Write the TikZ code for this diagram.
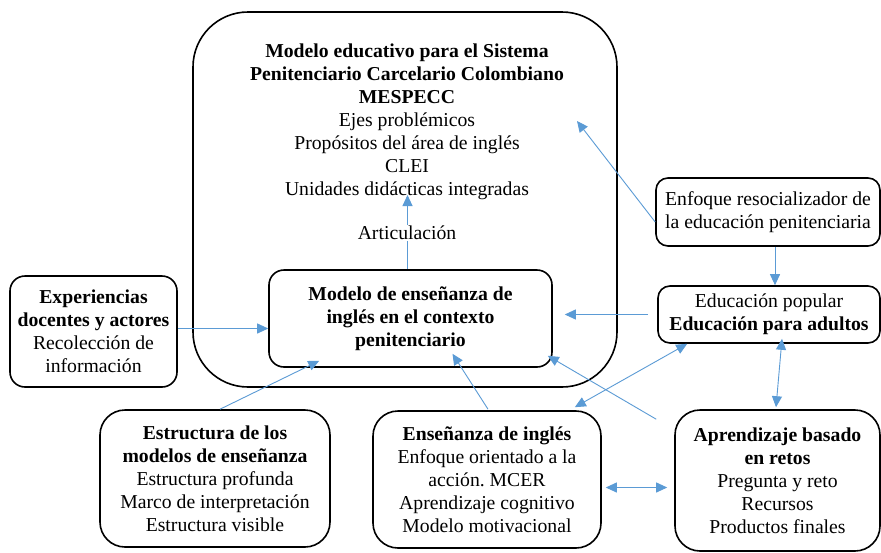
\documentclass[tikz,border=0pt]{standalone}
\usepackage{fontspec}
\setmainfont{Liberation Serif}
\usetikzlibrary{arrows.meta,calc}
\definecolor{arrowblue}{HTML}{5B9BD5}
\frenchspacing
\begin{document}
\begin{tikzpicture}[x=1pt,y=-1pt,
  box/.style={draw=black,line width=1.6pt,align=center,inner sep=0pt,font=\fontsize{19.7}{23}\selectfont},
  conn/.style={draw=arrowblue,line width=0.9pt,-{Triangle[length=11pt,width=10pt]}},
  biconn/.style={draw=arrowblue,line width=0.9pt,{Triangle[length=11pt,width=10pt]}-{Triangle[length=11pt,width=10pt]}},
  txt/.style={align=center,inner sep=0pt,font=\fontsize{19.7}{23}\selectfont}]
\useasboundingbox (0,0) rectangle (881,552);
\fill[white] (0,0) rectangle (881,552);

% boxes
\node[box, minimum width=424pt, minimum height=375pt, rounded corners=55pt] (big) at (405,199.5) {};
\node[txt] (bigtext) at (407,122) {\textbf{Modelo educativo para el Sistema}\\
\textbf{Penitenciario Carcelario Colombiano}\\
\textbf{MESPECC}\\
Ejes problémicos\\
Propósitos del área de inglés\\
CLEI\\
Unidades didácticas integradas};

\node[box, minimum width=283pt, minimum height=97pt, rounded corners=15pt] (mod) at (410.5,318.5)
  {\textbf{Modelo de enseñanza de}\\ \textbf{inglés en el contexto}\\ \textbf{penitenciario}};
\node[box, minimum width=167pt, minimum height=111pt, rounded corners=15pt] (exp) at (93.5,331.5)
  {\textbf{Experiencias}\\ \textbf{docentes y actores}\\ Recolección de\\ información};
\node[box, minimum width=224pt, minimum height=68pt, rounded corners=12pt] (enf) at (768,212)
  {Enfoque resocializador de\\ la educación penitenciaria};
\node[box, minimum width=222pt, minimum height=57pt, rounded corners=12pt] (edu) at (769,314.5)
  {Educación popular\\ \textbf{Educación para adultos}};
\node[box, minimum width=230pt, minimum height=137pt, rounded corners=25pt] (est) at (215,478.5)
  {\textbf{Estructura de los}\\ \textbf{modelos de enseñanza}\\ Estructura profunda\\ Marco de interpretación\\ Estructura visible};
\node[box, minimum width=228pt, minimum height=137pt, rounded corners=25pt] (ens) at (487,479.5)
  {\textbf{Enseñanza de inglés}\\ Enfoque orientado a la\\ acción. MCER\\ Aprendizaje cognitivo\\ Modelo motivacional};
\node[box, minimum width=205pt, minimum height=141pt, rounded corners=25pt] (apr) at (777.5,480.5)
  {\textbf{Aprendizaje basado}\\ \textbf{en retos}\\ Pregunta y reto\\ Recursos\\ Productos finales};

% connectors
\coordinate (tipA) at (577,121);
\coordinate (tipB) at (407.5,195);
\draw[conn] ($(enf.west)+(0,10)$) -- (tipA);
\draw[conn] ($(enf.south)+(7,0)$) -- ($(edu.north)+(6,0)$);
\draw[conn] ($(edu.west)+(-9,0)$) -- ($(mod.east)+(12,-4)$);
\draw[biconn] ($(ens.north east)+(-27,-3)$) -- ($(edu.south west)+(30,0)$);
\draw[biconn] ($(edu.south)+(13,-5)$) -- ($(apr.north)+(-1.5,-2)$);
\draw[conn] ($(apr.north west)+(-18,10)$) -- ($(mod.south east)+(-5,-12)$);
\draw[conn] ($(ens.north)+(1,-1)$) -- ($(mod.south)+(42,-14)$);
\draw[conn] ($(est.north)+(5,0)$) -- ($(mod.south west)+(51,-7)$);
\draw[conn] ($(exp.east)+(0,-3)$) -- ($(mod.west)+(0,10)$);
\draw[conn] ($(mod.north)+(-3,0)$) -- (tipB);
\draw[biconn] ($(ens.east)+(4,8)$) -- ($(apr.west)+(-7,7)$);

\node[txt, fill=white, inner sep=1pt] (art) at (407,233) {Articulación};
\end{tikzpicture}
\end{document}
